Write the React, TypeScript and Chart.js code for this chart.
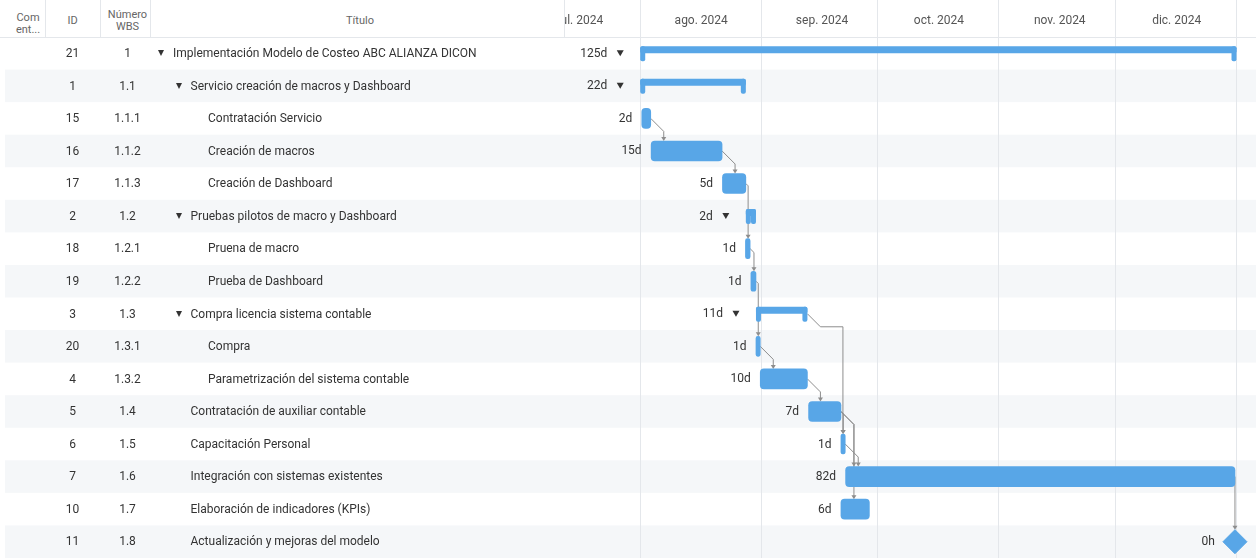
import React, { useEffect, useRef } from "react";
import { Chart, registerables } from "chart.js";

Chart.register(...registerables);

const FONT = "Roboto, 'Liberation Sans', Arial, sans-serif";

// ---- data ----
const taskIds = ["21", "1", "15", "16", "17", "2", "18", "19", "3", "20", "4", "5", "6", "7", "10", "11"];
const wbsNumbers = ["1", "1.1", "1.1.1", "1.1.2", "1.1.3", "1.2", "1.2.1", "1.2.2", "1.3", "1.3.1", "1.3.2", "1.4", "1.5", "1.6", "1.7", "1.8"];
const taskTitles = [
  "Implementación Modelo de Costeo ABC ALIANZA DICON",
  "Servicio creación de macros y Dashboard",
  "Contratación Servicio",
  "Creación de macros",
  "Creación de Dashboard",
  "Pruebas pilotos de macro y Dashboard",
  "Pruena de macro",
  "Prueba de Dashboard",
  "Compra licencia sistema contable",
  "Compra",
  "Parametrización del sistema contable",
  "Contratación de auxiliar contable",
  "Capacitación Personal",
  "Integración con sistemas existentes",
  "Elaboración de indicadores (KPIs)",
  "Actualización y mejoras del modelo",
];
const outlineLevels = [0, 1, 2, 2, 2, 1, 2, 2, 1, 2, 2, 1, 1, 1, 1, 1];
const taskKinds = ["summary", "summary", "task", "task", "task", "summary", "task", "task", "summary", "task", "task", "task", "task", "task", "task", "milestone"];
const durationLabels = ["125d", "22d", "2d", "15d", "5d", "2d", "1d", "1d", "11d", "1d", "10d", "7d", "1d", "82d", "6d", "0h"];
// days counted from 1 Aug 2024
const startDays = [0, 0, 0.4, 2.8, 21.1, 27.1, 27.0, 28.4, 29.7, 29.7, 30.8, 43.2, 51.5, 52.7, 51.5, 152.6];
const endDays = [153, 27.1, 2.7, 21.0, 27.1, 29.7, 28.2, 29.7, 42.9, 30.8, 42.9, 51.5, 52.6, 152.6, 58.8, 152.6];
const monthTicks = [-31, 0, 31, 61, 92, 122, 153];
const monthLabels = ["jul. 2024", "ago. 2024", "sep. 2024", "oct. 2024", "nov. 2024", "dic. 2024", ""];
const dependencies: [number, number][] = [
  [2, 3], [3, 4], [4, 6], [6, 7], [7, 9], [9, 10], [10, 11], [8, 12], [11, 12], [11, 13], [12, 13], [11, 14], [13, 15],
];
const axisMin = -19.3;
const axisMax = 158;

// ---- layout / style ----
const W = 1256;
const H = 558;
const HEADER_H = 37;
const TABLE_W = 565;
const ROW_H = (H - HEADER_H) / taskTitles.length;
const BAR = "#58a6e7";
const LINE = "#8d8d8d";
const GRID = "#e4e7eb";
const SHADE = "#f5f7f9";
const TEXT = "#333333";

function rr(ctx: CanvasRenderingContext2D, x: number, y: number, w: number, h: number, r: number) {
  ctx.beginPath();
  if ((ctx as any).roundRect) (ctx as any).roundRect(x, y, w, h, r);
  else ctx.rect(x, y, w, h);
  ctx.fill();
}

const ganttPlugin = {
  id: "ganttExtras",
  beforeDraw(chart: any) {
    const { ctx, chartArea } = chart;
    const rh = (chartArea.bottom - chartArea.top) / taskTitles.length;
    ctx.save();
    ctx.fillStyle = SHADE;
    for (let i = 1; i < taskTitles.length; i += 2) {
      ctx.fillRect(5, chartArea.top + i * rh, W - 5, rh);
    }
    ctx.restore();
  },
  beforeDatasetsDraw(chart: any) {
    const { ctx } = chart;
    const xs = chart.scales.x;
    const ys = chart.scales.y;
    ctx.save();
    // dependency arrows
    ctx.strokeStyle = LINE;
    ctx.fillStyle = LINE;
    ctx.lineWidth = 1;
    dependencies.forEach(([from, to]) => {
      const pe = xs.getPixelForValue(endDays[from]);
      const cy = ys.getPixelForValue(from);
      const ss = xs.getPixelForValue(startDays[to]);
      const se = xs.getPixelForValue(endDays[to]);
      const cyTo = ys.getPixelForValue(to);
      let topTo: number;
      let vx: number;
      if (taskKinds[to] === "milestone") {
        topTo = cyTo - 12;
        vx = ss;
      } else if (taskKinds[to] === "summary") {
        topTo = cyTo - 7;
        vx = ss + 2;
      } else {
        topTo = cyTo - 10;
        vx = Math.max(ss + 2, Math.min(pe + 13, se - 2));
      }
      const dx = Math.max(0, Math.min(vx - pe, 13));
      ctx.beginPath();
      ctx.moveTo(pe, cy);
      ctx.lineTo(pe + dx, cy + dx);
      if (vx > pe + dx) ctx.lineTo(vx, cy + dx);
      ctx.lineTo(vx, topTo - 3);
      ctx.stroke();
      ctx.beginPath();
      ctx.moveTo(vx - 2.5, topTo - 4);
      ctx.lineTo(vx + 2.5, topTo - 4);
      ctx.lineTo(vx, topTo);
      ctx.closePath();
      ctx.fill();
    });
    // summary brackets
    ctx.fillStyle = BAR;
    taskKinds.forEach((k, i) => {
      if (k !== "summary") return;
      const x0 = xs.getPixelForValue(startDays[i]);
      const x1 = xs.getPixelForValue(endDays[i]);
      const cy = ys.getPixelForValue(i);
      rr(ctx, x0, cy - 7, x1 - x0, 7, 2);
      rr(ctx, x0, cy - 7, 5, 15, 2);
      rr(ctx, x1 - 5, cy - 7, 5, 15, 2);
    });
    ctx.restore();
  },
  afterDatasetsDraw(chart: any) {
    const { ctx } = chart;
    const xs = chart.scales.x;
    const ys = chart.scales.y;
    ctx.save();
    ctx.font = `12px ${FONT}`;
    ctx.fillStyle = TEXT;
    ctx.textAlign = "right";
    ctx.textBaseline = "middle";
    taskKinds.forEach((k, i) => {
      const x0 = xs.getPixelForValue(startDays[i]);
      const cy = ys.getPixelForValue(i);
      if (k === "summary") {
        ctx.fillText(durationLabels[i], x0 - 33, cy + 0.5);
        ctx.beginPath();
        ctx.moveTo(x0 - 23.5, cy - 3);
        ctx.lineTo(x0 - 16.5, cy - 3);
        ctx.lineTo(x0 - 20, cy + 3);
        ctx.closePath();
        ctx.fill();
      } else if (k === "milestone") {
        ctx.fillText(durationLabels[i], x0 - 20, cy + 0.5);
      } else {
        ctx.fillText(durationLabels[i], x0 - 9.5, cy + 0.5);
      }
    });
    ctx.restore();
  },
};

const gridColor = (c: any) => (c.tick && c.tick.value < axisMin ? "rgba(0,0,0,0)" : GRID);

function GanttChart() {
  const ref = useRef<HTMLCanvasElement | null>(null);
  useEffect(() => {
    if (!ref.current) return;
    const taskBars = taskKinds.map((k, i) => (k === "task" ? [startDays[i], endDays[i]] : null));
    const milestones = taskKinds
      .map((k, i) => (k === "milestone" ? { x: startDays[i], y: taskTitles[i] } : null))
      .filter((p) => p !== null);
    const chart = new Chart(ref.current, {
      type: "bar",
      data: {
        labels: taskTitles,
        datasets: [
          {
            type: "bar",
            data: taskBars as any,
            backgroundColor: BAR,
            borderWidth: 0,
            borderRadius: 4,
            borderSkipped: false,
            barThickness: 20,
            grouped: false,
          } as any,
          {
            type: "scatter",
            data: milestones as any,
            pointStyle: "rectRot",
            pointRadius: 12,
            backgroundColor: BAR,
            borderColor: BAR,
            borderWidth: 1,
          } as any,
        ],
      },
      plugins: [ganttPlugin],
      options: {
        indexAxis: "y",
        animation: false,
        responsive: false,
        events: [],
        layout: { autoPadding: false, padding: { left: TABLE_W, right: 0, top: 0, bottom: 0 } },
        plugins: { legend: { display: false }, tooltip: { enabled: false } },
        scales: {
          x: {
            type: "linear",
            position: "top",
            min: axisMin,
            max: axisMax,
            afterBuildTicks: (s: any) => {
              s.ticks = monthTicks.map((v) => ({ value: v }));
            },
            afterFit: (s: any) => {
              s.height = HEADER_H;
              s.paddingLeft = 0;
              s.paddingRight = 0;
            },
            grid: { color: gridColor, lineWidth: 1, drawTicks: true, tickLength: HEADER_H, tickColor: gridColor },
            border: { display: true, color: GRID },
            ticks: {
              autoSkip: false,
              maxRotation: 0,
              minRotation: 0,
              labelOffset: 61,
              padding: -28,
              color: "#555",
              font: { family: FONT, size: 12 },
              callback: (v: any) => monthLabels[monthTicks.indexOf(Number(v))] ?? "",
            },
          },
          y: {
            type: "category",
            labels: taskTitles,
            display: false,
            offset: true,
          },
        },
      } as any,
    });
    return () => chart.destroy();
  }, []);
  return <canvas ref={ref} width={W} height={H} style={{ position: "absolute", left: 0, top: 0, width: W, height: H }} />;
}

export default function App() {
  const cell: React.CSSProperties = {
    position: "absolute",
    fontSize: 12,
    color: TEXT,
    whiteSpace: "nowrap",
  };
  const headerText: React.CSSProperties = {
    position: "absolute",
    fontSize: 11,
    color: "#666",
    textAlign: "center",
    lineHeight: "12px",
  };
  const sep = (x: number) => (
    <div key={"sep" + x} style={{ position: "absolute", left: x, top: 0, width: 1, height: HEADER_H, background: GRID }} />
  );
  return (
    <div
      style={{
        position: "fixed",
        left: 0,
        top: 0,
        width: W,
        height: H,
        overflow: "hidden",
        background: "#fff",
        fontFamily: FONT,
      }}
    >
      <GanttChart />
      <div
        style={{
          position: "absolute",
          left: 0,
          top: 0,
          width: TABLE_W,
          height: HEADER_H + 1,
          background: "#fff",
          borderBottom: `1px solid ${GRID}`,
          boxSizing: "border-box",
        }}
      >
        {[45, 100, 150, TABLE_W - 1].map(sep)}
        <div style={{ ...headerText, left: 8, width: 40, top: 12 }}>
          Com
          <br />
          ent...
        </div>
        <div style={{ ...headerText, left: 45, width: 55, top: 15 }}>ID</div>
        <div style={{ ...headerText, left: 100, width: 55, top: 9 }}>
          Número
          <br />
          WBS
        </div>
        <div style={{ ...headerText, left: 155, width: TABLE_W - 155, top: 15 }}>Título</div>
      </div>
      {taskTitles.map((t, i) => {
        const top = HEADER_H + i * ROW_H;
        const tx = 173 + 17.5 * outlineLevels[i];
        const line = { top, height: ROW_H, lineHeight: ROW_H + "px" };
        return (
          <React.Fragment key={i}>
            <div style={{ ...cell, ...line, left: 45, width: 55, textAlign: "center" }}>{taskIds[i]}</div>
            <div style={{ ...cell, ...line, left: 100, width: 55, textAlign: "center" }}>{wbsNumbers[i]}</div>
            {taskKinds[i] === "summary" && (
              <div
                style={{
                  position: "absolute",
                  left: tx - 15,
                  top: top + ROW_H / 2 - 3,
                  width: 0,
                  height: 0,
                  borderLeft: "3.5px solid transparent",
                  borderRight: "3.5px solid transparent",
                  borderTop: `6px solid ${TEXT}`,
                }}
              />
            )}
            <div style={{ ...cell, ...line, left: tx }}>{t}</div>
          </React.Fragment>
        );
      })}
    </div>
  );
}
